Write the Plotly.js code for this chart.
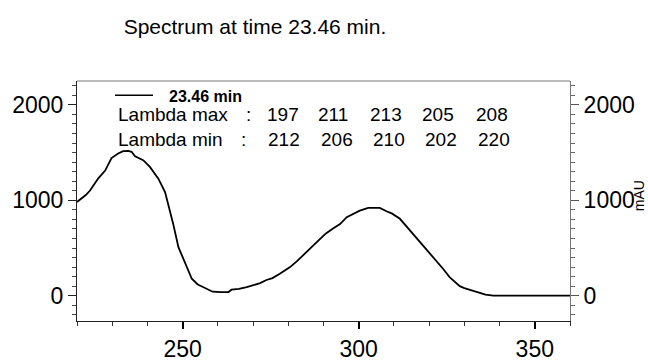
<!DOCTYPE html>
<html>
<head>
<meta charset="utf-8">
<script src="https://cdn.plot.ly/plotly-3.0.1.min.js"></script>
<style>html,body{margin:0;padding:0;background:#fff}#chart{width:648px;height:361px}</style>
</head>
<body>
<div id="chart"></div>
<script>
// Wavelength (nm)
var wavelength = [220, 221.3, 222.5, 223.7, 225.1, 226, 228, 229.8, 231.7, 233.1, 234.5, 235.5, 236.5, 238.8, 240.7, 243.1, 245, 246.4, 247.3, 248.8, 250.7, 252.6, 254.2, 256.8, 258.5, 261, 263, 263.9, 266, 268.2, 270, 272, 273.8, 275.5, 277.6, 280.5, 282.4, 284.2, 286, 287.6, 290.6, 292.5, 294.7, 296.6, 298.5, 300.3, 302.7, 304.5, 306, 307.9, 309.5, 311.7, 313.5, 315.5, 317.4, 320.2, 322, 324, 325.8, 327.5, 328.7, 330, 331.6, 333, 334.4, 336, 338.2, 340, 345, 350, 355, 360];
// Absorbance (mAU)
var absorbance = [982, 1018, 1055, 1102, 1176, 1228, 1311, 1443, 1490, 1515, 1518, 1508, 1460, 1420, 1350, 1227, 1087, 895, 755, 509, 335, 178, 120, 73, 42, 38, 38, 63, 72, 90, 108, 132, 165, 185, 230, 300, 360, 423, 480, 540, 650, 700, 750, 823, 860, 892, 920, 922, 920, 885, 860, 806, 730, 640, 562, 441, 370, 280, 195, 135, 100, 80, 63, 45, 27, 12, 0, 0, 0, 0, 0, 0];
var seriesName = '23.46 min';
var titleText = 'Spectrum at time 23.46 min.';
var lambdaMax = [197, 211, 213, 205, 208];
var lambdaMin = [212, 206, 210, 202, 220];
var xTickVals = [250, 300, 350];
var yTickVals = [0, 1000, 2000];

var FONT = 'Liberation Sans, Arial, sans-serif';

var trace = {
  x: wavelength, y: absorbance, type: 'scatter', mode: 'lines',
  name: seriesName, line: {color: '#000', width: 1.8}, showlegend: false, hoverinfo: 'skip'
};
var trace2 = {
  x: wavelength, y: absorbance, type: 'scatter', mode: 'lines', yaxis: 'y2',
  line: {color: 'rgba(0,0,0,0)', width: 0}, showlegend: false, hoverinfo: 'skip'
};

var maxX = [0.4170, 0.5193, 0.6262, 0.7317, 0.8418];
var minX = [0.4199, 0.5280, 0.6329, 0.7383, 0.8458];
var rowMaxY = 0.862, rowMinY = 0.755;
var txtFont = {family: FONT, size: 19, color: '#000'};

var annotations = [
  {xref: 'paper', yref: 'paper', x: 0.1826, y: 0.9375, xanchor: 'left', yanchor: 'middle',
   text: '<b>' + seriesName + '</b>', showarrow: false, font: {family: FONT, size: 16, color: '#000'}},
  {xref: 'paper', yref: 'paper', x: 0.0791, y: rowMaxY, xanchor: 'left', yanchor: 'middle',
   text: 'Lambda max', showarrow: false, font: txtFont},
  {xref: 'paper', yref: 'paper', x: 0.3475, y: rowMaxY, xanchor: 'center', yanchor: 'middle',
   text: ':', showarrow: false, font: txtFont},
  {xref: 'paper', yref: 'paper', x: 0.0791, y: rowMinY, xanchor: 'left', yanchor: 'middle',
   text: 'Lambda min', showarrow: false, font: txtFont},
  {xref: 'paper', yref: 'paper', x: 0.3387, y: rowMinY, xanchor: 'center', yanchor: 'middle',
   text: ':', showarrow: false, font: txtFont},
  {xref: 'paper', yref: 'paper', x: 1.14, y: 0.52, xanchor: 'center', yanchor: 'middle',
   text: 'mAU', textangle: -90, showarrow: false, font: {family: FONT, size: 14, color: '#000'}}
];
lambdaMax.forEach(function (v, i) {
  annotations.push({xref: 'paper', yref: 'paper', x: maxX[i], y: rowMaxY, xanchor: 'center', yanchor: 'middle',
    text: String(v), showarrow: false, font: txtFont});
});
lambdaMin.forEach(function (v, i) {
  annotations.push({xref: 'paper', yref: 'paper', x: minX[i], y: rowMinY, xanchor: 'center', yanchor: 'middle',
    text: String(v), showarrow: false, font: txtFont});
});

var yRange = [-265, 2250];
var layout = {
  width: 648, height: 361,
  margin: {l: 77, r: 78, t: 81, b: 40, pad: 0},
  paper_bgcolor: '#fff', plot_bgcolor: '#fff',
  font: {family: FONT, color: '#000'},
  title: {text: titleText, font: {family: FONT, size: 21, color: '#000'},
          xref: 'paper', x: 0.361, xanchor: 'center', yref: 'container', y: 0.925, yanchor: 'middle'},
  xaxis: {
    range: [220, 360], tickvals: xTickVals, ticks: 'outside', ticklen: 7, tickwidth: 2, tickcolor: '#000',
    showline: true, linecolor: '#222', linewidth: 1, showgrid: false, zeroline: false,
    tickfont: {family: FONT, size: 23, color: '#000'},
    minor: {dtick: 10, tick0: 220, ticks: 'outside', ticklen: 4, tickcolor: '#333', tickwidth: 1, showgrid: false}
  },
  yaxis: {
    range: yRange, tickvals: yTickVals, ticks: 'outside', ticklen: 8, tickwidth: 1, tickcolor: '#222',
    showline: true, linecolor: '#222', linewidth: 1, showgrid: false, zeroline: false,
    tickfont: {family: FONT, size: 23, color: '#000'},
    minor: {dtick: 100, tick0: 0, ticks: 'outside', ticklen: 4, tickcolor: '#444', tickwidth: 1, showgrid: false}
  },
  yaxis2: {
    overlaying: 'y', side: 'right', range: yRange, tickvals: yTickVals, ticks: 'outside', ticklen: 8, tickwidth: 1, tickcolor: '#555',
    showline: true, linecolor: '#777', linewidth: 1, showgrid: false, zeroline: false,
    tickfont: {family: FONT, size: 23, color: '#000'},
    minor: {dtick: 100, tick0: 0, ticks: 'outside', ticklen: 4, tickcolor: '#666', tickwidth: 1, showgrid: false}
  },
  shapes: [
    {type: 'line', xref: 'paper', yref: 'paper', x0: 0, x1: 1, y0: 1, y1: 1, line: {color: '#777', width: 1}},
    {type: 'line', xref: 'paper', yref: 'paper', x0: 0.0771, x1: 0.1542, y0: 0.9404, y1: 0.9404, line: {color: '#000', width: 1.5}}
  ],
  annotations: annotations,
  showlegend: false
};

Plotly.newPlot('chart', [trace, trace2], layout, {staticPlot: true, displayModeBar: false});
</script>
</body>
</html>
